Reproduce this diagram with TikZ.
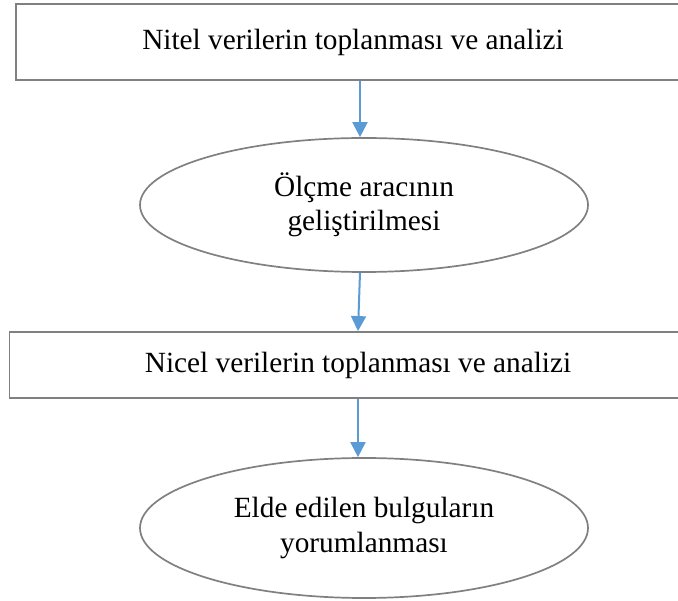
\documentclass[tikz,border=0pt]{standalone}
\usepackage{fontspec}
\setmainfont{Liberation Serif}
\usetikzlibrary{shapes.geometric,arrows.meta}
\definecolor{boxline}{RGB}{128,128,128}
\definecolor{flowblue}{RGB}{91,155,213}
\tikzset{
  stagebox/.style={draw=boxline, line width=1.8pt, rectangle, inner sep=0pt,
    font=\fontsize{29.3}{34}\selectfont, align=center},
  stageoval/.style={draw=boxline, line width=1.7pt, ellipse, inner sep=0pt,
    font=\fontsize{29.3}{34.5}\selectfont, align=center},
  flow/.style={draw=flowblue, line width=2pt,
    -{Triangle[width=15pt,length=15pt]}}
}
\begin{document}
\begin{tikzpicture}[x=1pt,y=-1pt]
\clip (0,0) rectangle (678,601);
\node[stagebox, minimum width=674pt, minimum height=76pt] (r1) at (353,42)
  {Nitel verilerin toplanması ve analizi};
\node[stageoval, minimum width=448pt, minimum height=134pt] (e1) at (364,205)
  {Ölçme aracının\\geliştirilmesi};
\node[stagebox, minimum width=697pt, minimum height=66pt] (r2) at (358,365)
  {Nicel verilerin toplanması ve analizi};
\node[stageoval, minimum width=448pt, minimum height=140pt] (e2) at (364,528)
  {Elde edilen bulguların\\yorumlanması};
\coordinate (a1) at ([xshift=7pt]r1.south);
\draw[flow] (a1) -- (a1 |- e1.north);
\draw[flow] ([xshift=-4pt]e1.south) -- (r2.north);
\draw[flow] (r2.south) -- (r2.south |- e2.north);
\end{tikzpicture}
\end{document}
